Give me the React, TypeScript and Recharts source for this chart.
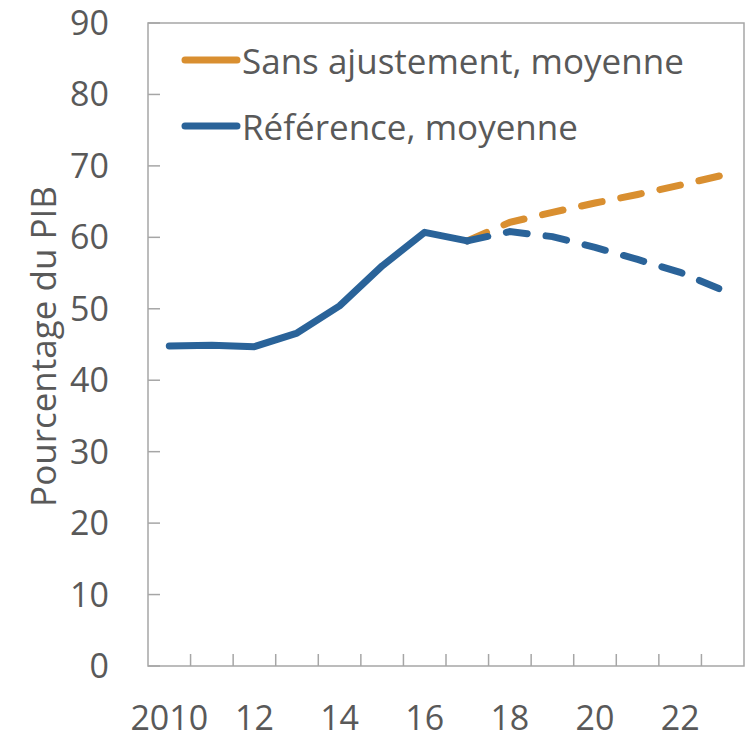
import { LineChart, Line, XAxis, YAxis, ReferenceArea, Legend } from "recharts";

const years = [2010, 2011, 2012, 2013, 2014, 2015, 2016, 2017, 2018, 2019, 2020, 2021, 2022, 2023];
// Référence, observed part (2010-2017)
const referenceHist = [44.8, 44.9, 44.7, 46.6, 50.4, 56.0, 60.7, 59.5];
// Référence, projection (2017-2023)
const referenceProj = [59.5, 60.8, 60.1, 58.6, 56.9, 55.1, 52.6];
// Sans ajustement, projection (2017-2023)
const noAdjustment = [59.5, 62.1, 63.5, 64.8, 66.0, 67.3, 68.7];
const projStart = 2017;

const yTicks = [0, 10, 20, 30, 40, 50, 60, 70, 80, 90];
const labelYears = [2010, 2012, 2014, 2016, 2018, 2020, 2022];
const yearLabel = (y: number) => (y === 2010 ? "2010" : String(y % 100));
const legendOrder = ["noadj", "proj"];

const data = years.map((year, i) => ({
  year,
  hist: i < referenceHist.length ? referenceHist[i] : null,
  proj: year >= projStart ? referenceProj[year - projStart] : null,
  noadj: year >= projStart ? noAdjustment[year - projStart] : null,
}));

// labels on even years, tick marks on band boundaries
const xTicks = [
  ...labelYears,
  ...years.slice(0, -1).map((y) => y + 0.5),
].sort((a, b) => a - b);

const FONT = "'Open Sans', 'Noto Sans', sans-serif";
const TEXT = "#595959";
const AXIS = "#a6a6a6";
const ORANGE = "#d98f30";
const BLUE = "#2a6399";

const XTick = ({ x, y, payload }: any) => {
  const v = payload.value;
  if (Number.isInteger(v)) {
    return (
      <text x={x} y={y + 64} textAnchor="middle" fill={TEXT} fontSize={34} fontFamily={FONT}>
        {yearLabel(v)}
      </text>
    );
  }
  return <line x1={x} x2={x} y1={y} y2={y - 12} stroke={AXIS} strokeWidth={1.5} />;
};

const YTick = ({ x, y, payload }: any) => (
  <g>
    <line x1={x} x2={x + 12} y1={y} y2={y} stroke={AXIS} strokeWidth={1.5} />
    <text x={x - 39} y={y} dy={12} textAnchor="end" fill={TEXT} fontSize={34} fontFamily={FONT}>
      {payload.value}
    </text>
  </g>
);

const YTitle = ({ viewBox }: any) => {
  const cx = viewBox.x + 56;
  const cy = viewBox.y + viewBox.height / 2 + 2;
  return (
    <text
      x={cx}
      y={cy}
      transform={`rotate(-90, ${cx}, ${cy})`}
      textAnchor="middle"
      fill={TEXT}
      fontSize={35}
      fontFamily={FONT}
    >
      Pourcentage du PIB
    </text>
  );
};

const LegendContent = ({ payload }: any) => {
  const items = (payload || [])
    .filter((p: any) => legendOrder.includes(p.dataKey))
    .sort((a: any, b: any) => legendOrder.indexOf(a.dataKey) - legendOrder.indexOf(b.dataKey));
  return (
    <div style={{ fontFamily: FONT, fontSize: 35, color: TEXT }}>
      {items.map((p: any) => (
        <div key={p.value} style={{ display: "flex", alignItems: "center", height: 66 }}>
          <svg width={60} height={10} style={{ marginRight: 1 }}>
            <line x1={4} x2={56} y1={5} y2={5} stroke={p.color} strokeWidth={7} strokeLinecap="round" />
          </svg>
          <span style={{ whiteSpace: "nowrap" }}>{p.value}</span>
        </div>
      ))}
    </div>
  );
};

export default function App() {
  return (
    <div style={{ position: "absolute", left: 0, top: 0, background: "white" }}>
      <LineChart
        width={752}
        height={739}
        data={data}
        margin={{ top: 23, right: 8, bottom: 0, left: 0 }}
      >
        <XAxis
          dataKey="year"
          type="number"
          domain={[2009.5, 2023.5]}
          ticks={xTicks}
          interval={0}
          height={73}
          tickSize={0}
          tickMargin={0}
          axisLine={false}
          tickLine={false}
          tick={<XTick />}
        />
        <YAxis
          type="number"
          domain={[0, 90]}
          ticks={yTicks}
          interval={0}
          width={148}
          tickSize={0}
          tickMargin={0}
          axisLine={false}
          tickLine={false}
          tick={<YTick />}
          label={{ content: <YTitle /> }}
        />
        <ReferenceArea
          x1={2009.5}
          x2={2023.5}
          y1={0}
          y2={90}
          fill="none"
          stroke={AXIS}
          strokeWidth={1.5}
          ifOverflow="visible"
        />
        <Legend
          layout="vertical"
          align="center"
          verticalAlign="middle"
          content={<LegendContent />}
          wrapperStyle={{ left: 181, top: 27, width: 540, height: 140 }}
        />
        <Line
          dataKey="noadj"
          name="Sans ajustement, moyenne"
          stroke={ORANGE}
          strokeWidth={7}
          strokeDasharray="21 19"
          strokeLinecap="round"
          dot={false}
          isAnimationActive={false}
        />
        <Line
          dataKey="proj"
          name="Référence, moyenne"
          stroke={BLUE}
          strokeWidth={7}
          strokeDasharray="21 19"
          strokeLinecap="round"
          dot={false}
          isAnimationActive={false}
        />
        <Line
          dataKey="hist"
          legendType="none"
          stroke={BLUE}
          strokeWidth={7}
          strokeLinejoin="round"
          strokeLinecap="round"
          dot={false}
          isAnimationActive={false}
        />
      </LineChart>
    </div>
  );
}
